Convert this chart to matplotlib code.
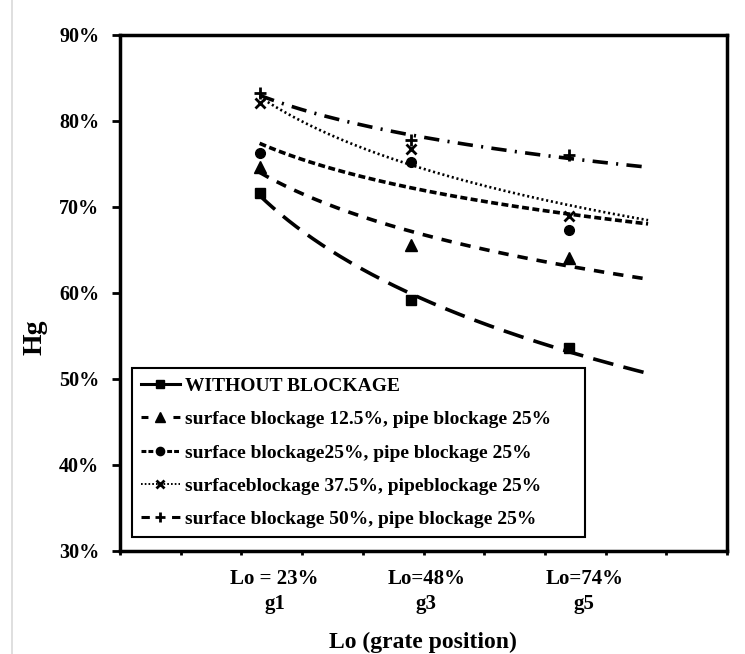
import numpy as np
import matplotlib
matplotlib.use('Agg')
import matplotlib.pyplot as plt
from matplotlib.lines import Line2D
import matplotlib.transforms as mtransforms
from matplotlib.ticker import FuncFormatter, MultipleLocator, FixedLocator

plt.rcParams['font.family'] = ['Liberation Serif', 'DejaVu Serif']
plt.rcParams['lines.scale_dashes'] = False

# ---- data ----
lo_pct = [23, 48, 74]
grate_labels = ['Lo = 23%\ng1', 'Lo=48%\ng3', 'Lo=74%\ng5']
series_names = [
    'WITHOUT BLOCKAGE',
    'surface blockage 12.5%, pipe blockage 25%',
    'surface blockage25%, pipe blockage 25%',
    'surfaceblockage 37.5%, pipeblockage 25%',
    'surface blockage 50%, pipe blockage 25%',
]
hg_without = [71.6, 59.2, 53.6]
hg_s125 = [74.6, 65.6, 64.1]
hg_s25 = [76.3, 75.2, 67.3]
hg_s375 = [82.1, 76.8, 69.0]
hg_s50 = [83.2, 77.8, 76.0]
trend_end = 87
y_ticks = [30, 40, 50, 60, 70, 80, 90]

series_values = [hg_without, hg_s125, hg_s25, hg_s375, hg_s50]

styles = [
    dict(marker='s', ms=7, mew=1, trend_lw=2.6, trend_dash=(15, 7.5), leg_dash=None, leg_lw=2.2),
    dict(marker='^', ms=8, mew=1, trend_lw=2.6, trend_dash=(7.5, 6.5), leg_dash=(5, 18), leg_lw=2.2),
    dict(marker='o', ms=7, mew=1, trend_lw=2.6, trend_dash=(5, 2.5), leg_dash=(3.5, 1.5, 3.5, 10, 3.5, 1.5), leg_lw=2.2),
    dict(marker='x', ms=7, mew=2, trend_lw=1.9, trend_dash=(1.5, 2.0), leg_dash=(1.2, 1.5), leg_lw=1.4),
    dict(marker='+', ms=9, mew=2, trend_lw=2.6, trend_dash=(11, 6, 1.5, 6), leg_dash=(6, 16), leg_lw=2.2),
]

fig = plt.figure(figsize=(7.45, 6.54), dpi=100)
W, H = 745, 654
ax = fig.add_axes([120 / W, 1 - 551 / H, 607 / W, 516 / H])

xs = np.linspace(lo_pct[0], trend_end, 300)
for vals, st in zip(series_values, styles):
    ax.plot(lo_pct, vals, linestyle='none', marker=st['marker'], ms=st['ms'],
            mew=st['mew'], color='black', zorder=4)
    coef = np.polyfit(np.log(lo_pct), vals, 1)
    ax.plot(xs, np.polyval(coef, np.log(xs)), color='black', lw=st['trend_lw'],
            dashes=st['trend_dash'], zorder=3)

ax.set_xlim(0, 100)
ax.set_ylim(30, 90)
ax.yaxis.set_major_locator(FixedLocator(y_ticks))
ax.yaxis.set_major_formatter(FuncFormatter(lambda v, p: f'{int(round(v))}%'))
ax.tick_params(axis='y', which='major', direction='out', length=6, width=2,
               labelsize=14.5, pad=9)
for t in ax.get_yticklabels():
    t.set_fontweight('bold')

ax.set_xticks(lo_pct)
ax.set_xticklabels(grate_labels, fontsize=15, fontweight='bold', linespacing=1.3)
ax.xaxis.set_minor_locator(MultipleLocator(10))
ax.tick_params(axis='x', which='major', length=0, pad=13)
ax.tick_params(axis='x', which='minor', direction='out', length=3, width=2)
offset = mtransforms.ScaledTranslation(15 / 100, 0, fig.dpi_scale_trans)
for t in ax.get_xticklabels():
    t.set_transform(t.get_transform() + offset)

for sp in ax.spines.values():
    sp.set_linewidth(2.5)
    sp.set_color('black')

fig.text(423 / W, 1 - 642 / H, 'Lo (grate position)', ha='center', va='center',
         fontsize=17, fontweight='bold')
fig.text(35 / W, 1 - 337 / H, 'Hg', rotation=90, ha='center', va='center',
         fontsize=20, fontweight='bold')

handles = []
for st in styles:
    kw = dict(color='black', lw=st['leg_lw'], marker=st['marker'],
              ms=st['ms'] * 0.85, mew=st['mew'])
    if st['leg_dash'] is not None:
        kw['dashes'] = st['leg_dash']
    handles.append(Line2D([], [], **kw))

leg = ax.legend(handles, series_names, loc='lower left',
                bbox_to_anchor=(12 / 607, 14 / 516, 453 / 607, 170 / 516),
                mode='expand', borderaxespad=0, frameon=True, fancybox=False,
                edgecolor='black', framealpha=1, borderpad=0.45,
                labelspacing=0.81, handlelength=2.0, handletextpad=0.3,
                prop=dict(weight='bold', size=14))
leg.get_frame().set_linewidth(1.5)

fig.add_artist(Line2D([12 / W, 12 / W], [0, 1], transform=fig.transFigure,
                      color='#d9d9d9', lw=1.2))

fig.savefig('out.png', dpi=100)
